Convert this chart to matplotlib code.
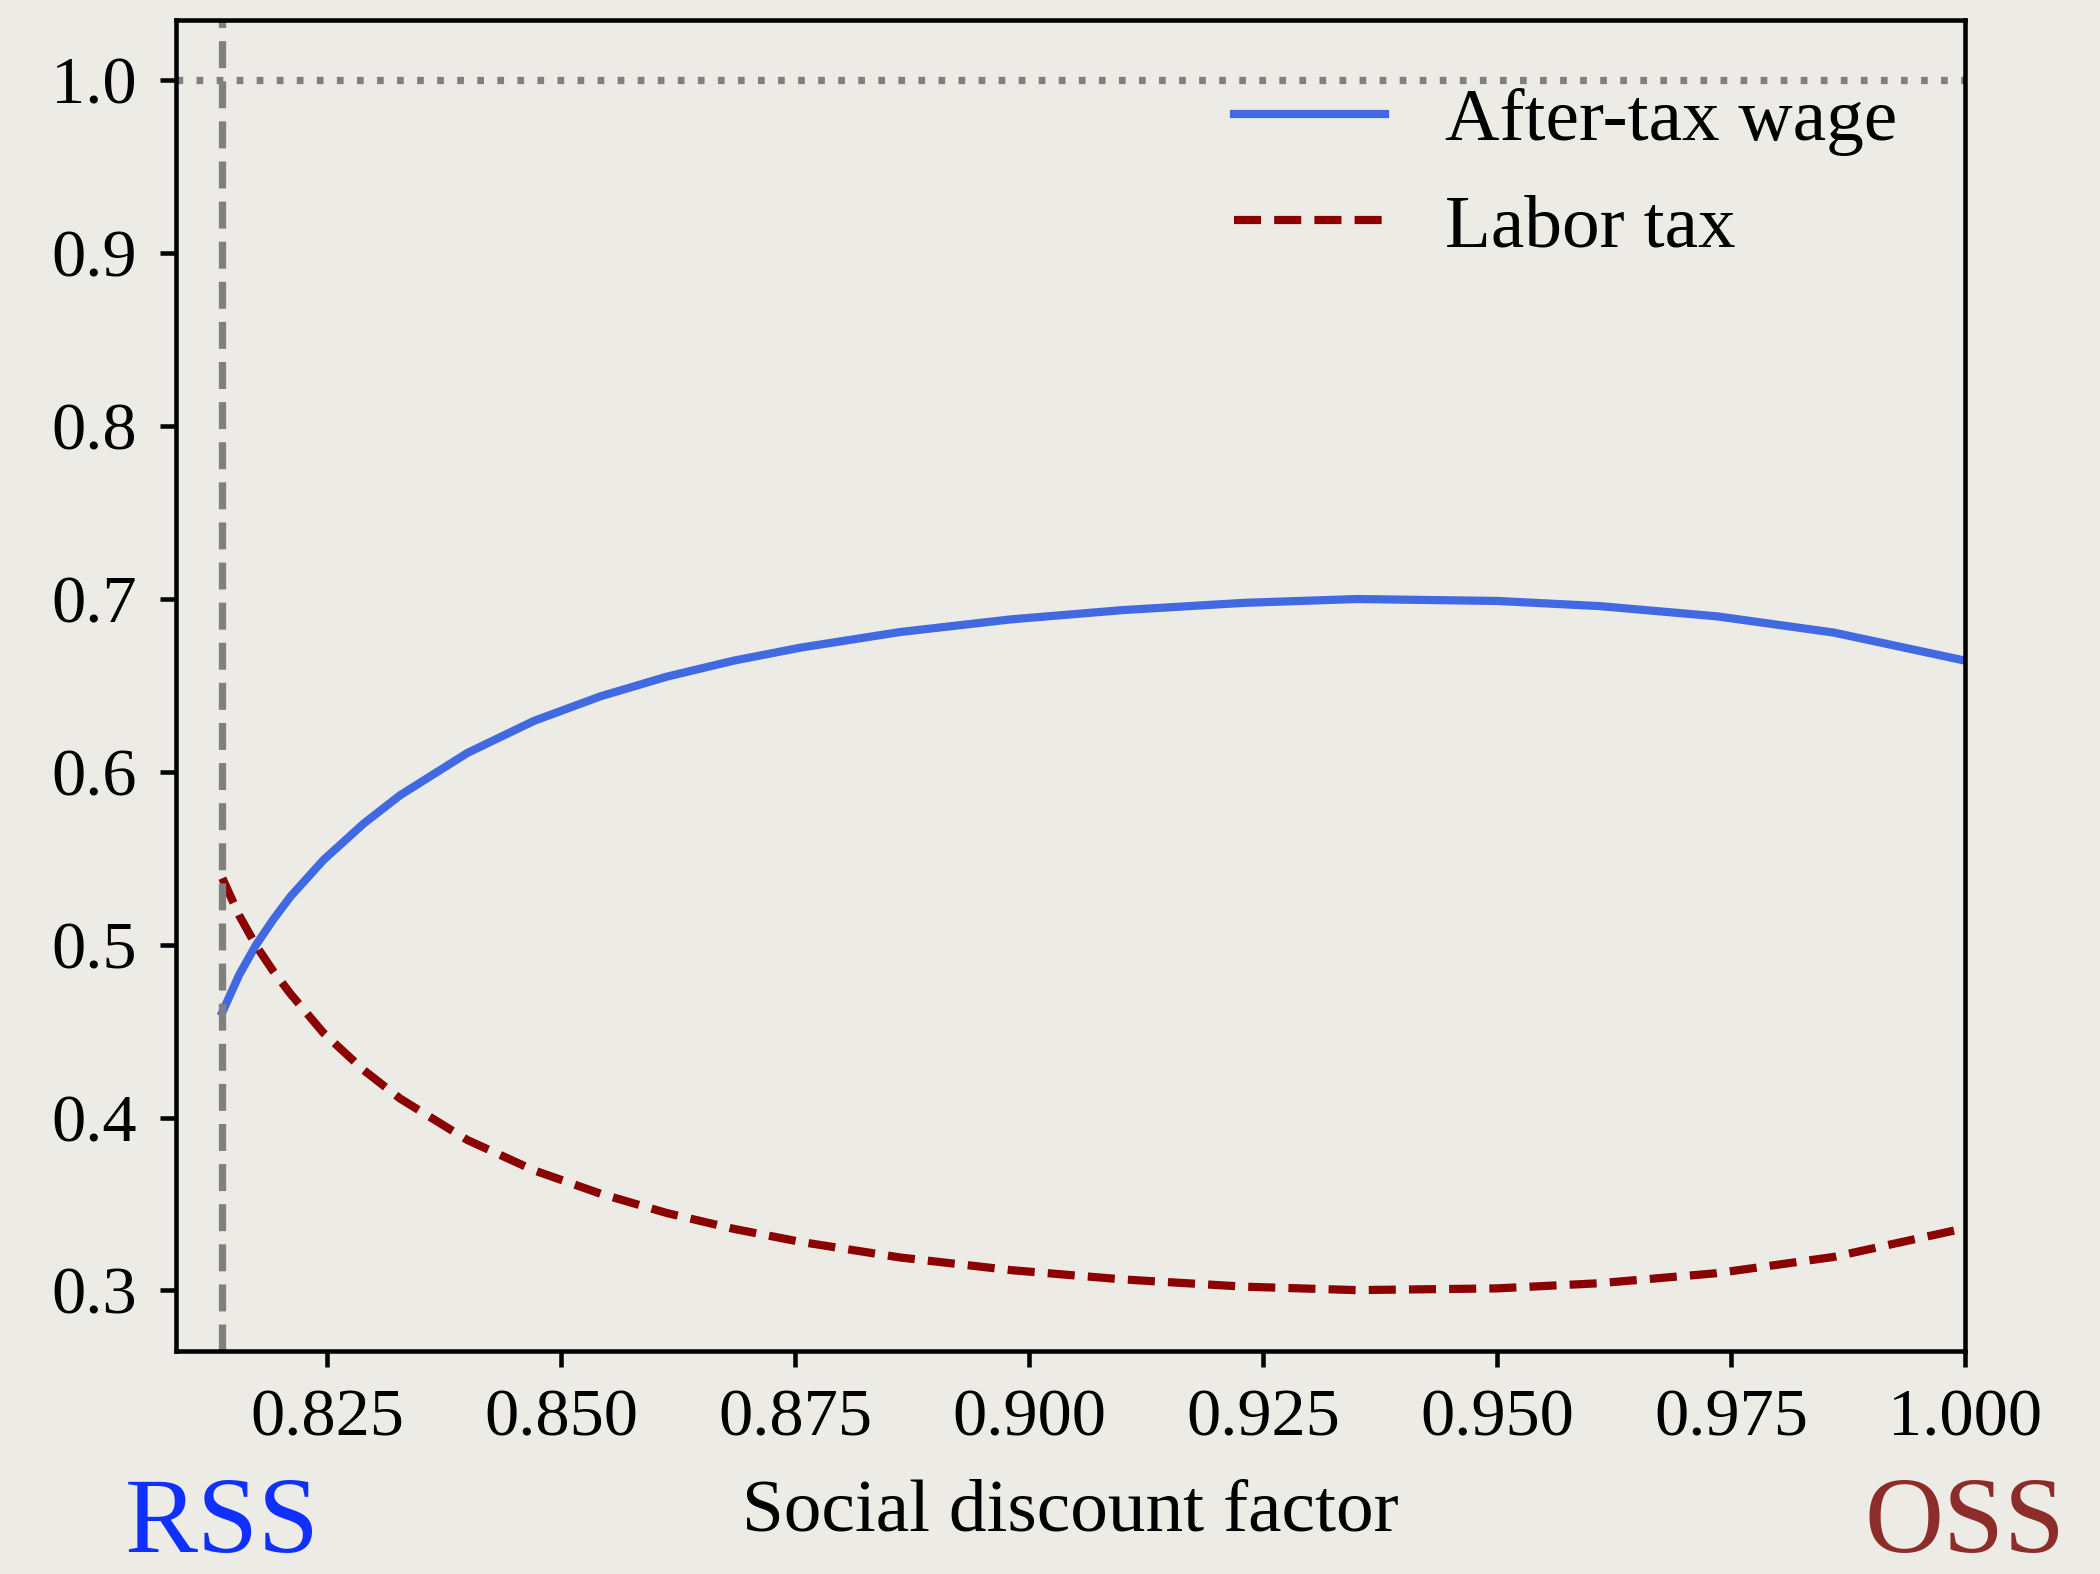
import matplotlib
matplotlib.use("Agg")
import matplotlib.pyplot as plt
import matplotlib.transforms as mtransforms

# ---- data ----
beta = [0.8138, 0.8156, 0.8174, 0.8192, 0.8211, 0.8246, 0.8289, 0.8328,
        0.8400, 0.8471, 0.8542, 0.8613, 0.8684, 0.8756, 0.8862, 0.8980,
        0.9100, 0.9230, 0.9350, 0.9500, 0.9610, 0.9735, 0.9860, 1.0000]
after_tax_wage = [0.4610, 0.4826, 0.4999, 0.5143, 0.5280, 0.5490, 0.5701, 0.5865,
                  0.6110, 0.6295, 0.6437, 0.6551, 0.6643, 0.6719, 0.6809, 0.6882,
                  0.6936, 0.6978, 0.7000, 0.6989, 0.6959, 0.6900, 0.6806, 0.6644]
labor_tax = [0.5385, 0.5170, 0.4995, 0.4850, 0.4715, 0.4490, 0.4275, 0.4110,
             0.3870, 0.3695, 0.3560, 0.3448, 0.3357, 0.3281, 0.3191, 0.3118,
             0.3064, 0.3022, 0.3002, 0.3012, 0.3042, 0.3100, 0.3194, 0.3360]
rss_beta = 0.8138
oss_beta = 1.0
x_ticks = [0.825, 0.850, 0.875, 0.900, 0.925, 0.950, 0.975, 1.000]
y_ticks = [0.3, 0.4, 0.5, 0.6, 0.7, 0.8, 0.9, 1.0]

bg = "#ecebe6"
plt.rcParams["font.family"] = ["Liberation Serif", "DejaVu Serif"]

fig = plt.figure(figsize=(6.4, 4.797), dpi=328.125, facecolor=bg)
ax = fig.add_axes([0.0836, 0.1417, 0.9356 - 0.0836, 0.9873 - 0.1417])
ax.set_facecolor(bg)

ax.plot(beta, after_tax_wage, color="royalblue", lw=1.8, label="After-tax wage")
ax.plot(beta, labor_tax, color="darkred", lw=1.8, ls=(0, (3.3, 1.6)),
        label="Labor tax")
ax.axvline(rss_beta, color="gray", lw=1.6, ls=(0, (3.7, 1.8)))
ax.axhline(1.0, color="gray", lw=1.6, ls=(0, (0.92, 1.83)))

ax.set_xlim(0.8088, 1.0)
ax.set_ylim(0.265, 1.035)
ax.set_xticks(x_ticks)
ax.set_xticklabels([f"{v:.3f}" for v in x_ticks])
ax.set_yticks(y_ticks)
ax.set_yticklabels([f"{v:.1f}" for v in y_ticks])
ax.tick_params(labelsize=15, width=1.0, length=3.5)
ax.tick_params(axis="x", pad=4.7)
ax.tick_params(axis="y", pad=5)
for s in ax.spines.values():
    s.set_linewidth(1.0)
    s.set_color("black")

ax.set_xlabel("Social discount factor", fontsize=16.5, labelpad=6.5)
ax.legend(loc="upper right", frameon=False, fontsize=16.5)

trans = mtransforms.blended_transform_factory(ax.transData, fig.transFigure)
ax.text(rss_beta, 0.014, "RSS", color="#1030ff", fontsize=24, ha="center",
        va="baseline", transform=trans, clip_on=False)
ax.text(oss_beta, 0.014, "OSS", color="#8c2d2a", fontsize=24, ha="center",
        va="baseline", transform=trans, clip_on=False)

fig.savefig("out.png", dpi=328.125, facecolor=bg)
